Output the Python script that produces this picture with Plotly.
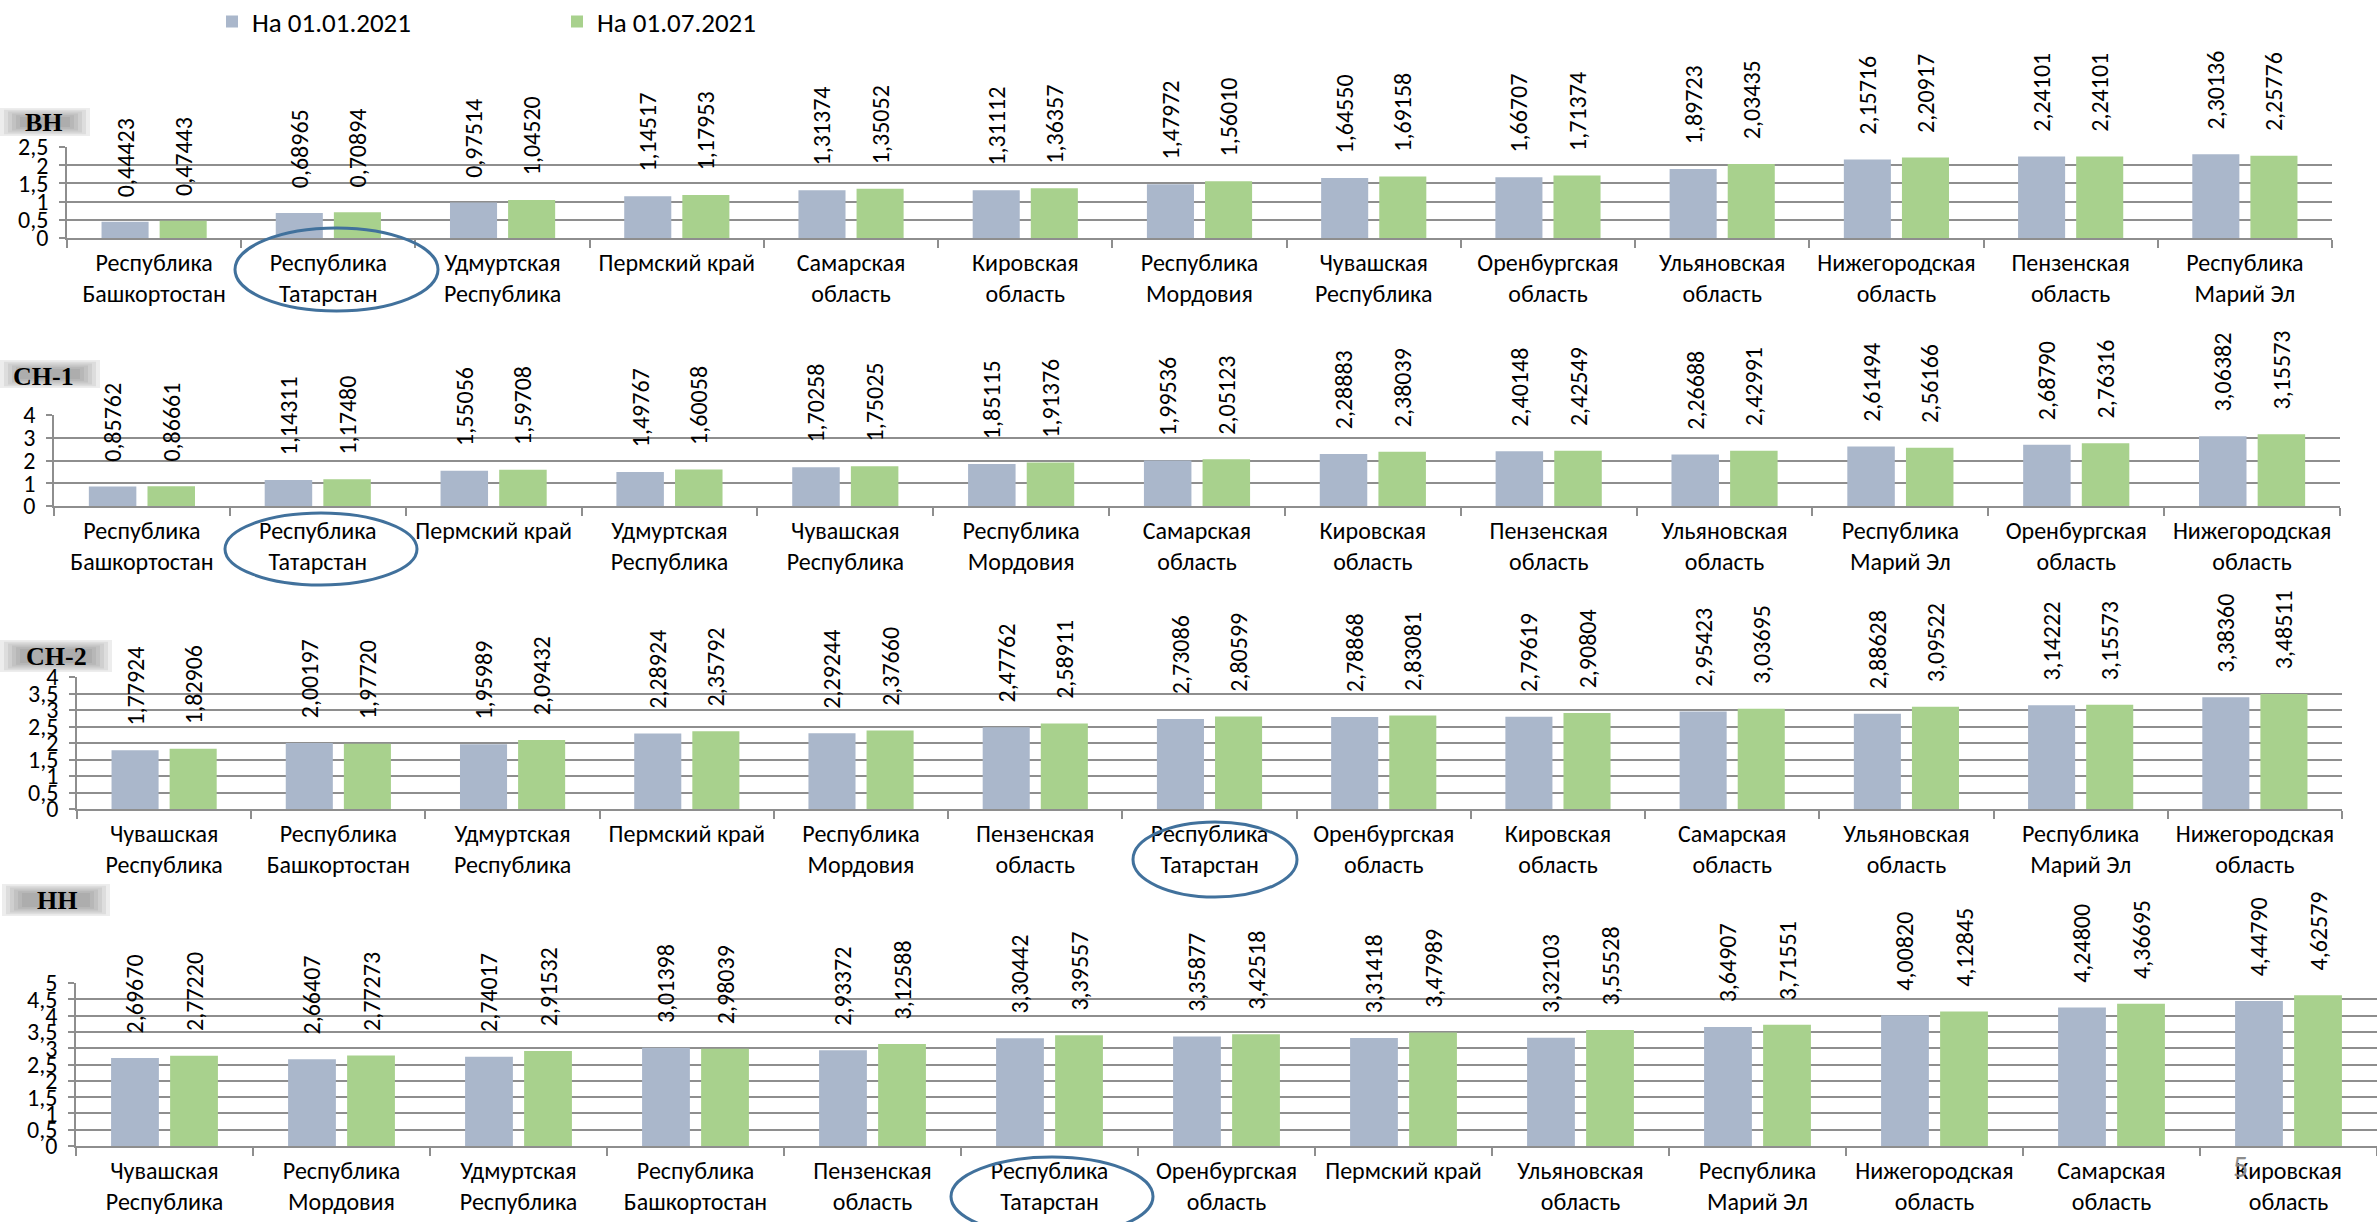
import plotly.graph_objects as go

W, H = 2377, 1222
FONT = "Carlito, Calibri, 'Open Sans', sans-serif"
SERIF = "'Liberation Serif', 'Times New Roman', serif"

# ---------------- data ----------------
series_names = ["На 01.01.2021", "На 01.07.2021"]

vn_cats = ["Республика<br>Башкортостан", "Республика<br>Татарстан", "Удмуртская<br>Республика",
           "Пермский край", "Самарская<br>область", "Кировская<br>область", "Республика<br>Мордовия",
           "Чувашская<br>Республика", "Оренбургская<br>область", "Ульяновская<br>область",
           "Нижегородская<br>область", "Пензенская<br>область", "Республика<br>Марий Эл"]
vn_jan = [0.44423, 0.68965, 0.97514, 1.14517, 1.31374, 1.31112, 1.47972, 1.64550, 1.66707,
          1.89723, 2.15716, 2.24101, 2.30136]
vn_jul = [0.47443, 0.70894, 1.04520, 1.17953, 1.35052, 1.36357, 1.56010, 1.69158, 1.71374,
          2.03435, 2.20917, 2.24101, 2.25776]

sn1_cats = ["Республика<br>Башкортостан", "Республика<br>Татарстан", "Пермский край",
            "Удмуртская<br>Республика", "Чувашская<br>Республика", "Республика<br>Мордовия",
            "Самарская<br>область", "Кировская<br>область", "Пензенская<br>область",
            "Ульяновская<br>область", "Республика<br>Марий Эл", "Оренбургская<br>область",
            "Нижегородская<br>область"]
sn1_jan = [0.85762, 1.14311, 1.55056, 1.49767, 1.70258, 1.85115, 1.99536, 2.28883, 2.40148,
           2.26688, 2.61494, 2.68790, 3.06382]
sn1_jul = [0.86661, 1.17480, 1.59708, 1.60058, 1.75025, 1.91376, 2.05123, 2.38039, 2.42549,
           2.42991, 2.56166, 2.76316, 3.15573]

sn2_cats = ["Чувашская<br>Республика", "Республика<br>Башкортостан", "Удмуртская<br>Республика",
            "Пермский край", "Республика<br>Мордовия", "Пензенская<br>область",
            "Республика<br>Татарстан", "Оренбургская<br>область", "Кировская<br>область",
            "Самарская<br>область", "Ульяновская<br>область", "Республика<br>Марий Эл",
            "Нижегородская<br>область"]
sn2_jan = [1.77924, 2.00197, 1.95989, 2.28924, 2.29244, 2.47762, 2.73086, 2.78868, 2.79619,
           2.95423, 2.88628, 3.14222, 3.38360]
sn2_jul = [1.82906, 1.97720, 2.09432, 2.35792, 2.37660, 2.58911, 2.80599, 2.83081, 2.90804,
           3.03695, 3.09522, 3.15573, 3.48511]

nn_cats = ["Чувашская<br>Республика", "Республика<br>Мордовия", "Удмуртская<br>Республика",
           "Республика<br>Башкортостан", "Пензенская<br>область", "Республика<br>Татарстан",
           "Оренбургская<br>область", "Пермский край", "Ульяновская<br>область",
           "Республика<br>Марий Эл", "Нижегородская<br>область", "Самарская<br>область",
           "Кировская<br>область"]
nn_jan = [2.69670, 2.66407, 2.74017, 3.01398, 2.93372, 3.30442, 3.35877, 3.31418, 3.32103,
          3.64907, 4.00820, 4.24800, 4.44790]
nn_jul = [2.77220, 2.77273, 2.91532, 2.98039, 3.12588, 3.39557, 3.42518, 3.47989, 3.55528,
          3.71551, 4.12845, 4.36695, 4.62579]

panel_titles = ["ВН", "СН-1", "СН-2", "НН"]
y_max = [2.5, 4, 4, 5]
y_step = [0.5, 1, 0.5, 0.5]
page_number = "5"

# ---------------- layout config (pixels) ----------------
COLORS = ["#AAB7CB", "#A8D18D"]
GRID = "#8E8E8E"
plot_px = [  # x0, x1, y_top, y_bottom
    (67, 2332, 147, 238),
    (54, 2340, 415, 506),
    (77, 2342, 677, 809),
    (76, 2377, 983, 1146),
]
title_box_px = [(0, 108, 90, 136), (0, 360, 100, 388), (0, 640, 112, 672), (2, 884, 110, 916)]
title_center_px = [(44, 123), (43, 376), (56, 656), (57, 900)]
ellipse_px = [(235, 228, 438, 311), (225, 513, 417, 585), (1133, 822, 1297, 897), (951, 1157, 1153, 1236)]

def px(x):
    return x / W

def py(y):
    return 1 - y / H

def fmt(v):
    return "\u00a0\u00a0\u00a0\u00a0" + f"{v:.5f}".replace(".", ",")

data = [(vn_cats, vn_jan, vn_jul), (sn1_cats, sn1_jan, sn1_jul),
        (sn2_cats, sn2_jan, sn2_jul), (nn_cats, nn_jan, nn_jul)]

fig = go.Figure()
layout = {}
for i, (cats, a, b) in enumerate(data):
    sfx = "" if i == 0 else str(i + 1)
    for k, vals in enumerate([a, b]):
        fig.add_trace(go.Bar(
            x=cats, y=vals, name=series_names[k],
            marker=dict(color=COLORS[k], line=dict(width=0)),
            text=[fmt(v) for v in vals], textposition="outside", textangle=-90,
            textfont=dict(family=FONT, size=24, color="black"),
            constraintext="none", cliponaxis=False,
            xaxis="x" + sfx, yaxis="y" + sfx,
            showlegend=(i == 0), legendgroup=str(k),
        ))
    x0, x1, yt, yb = plot_px[i]
    layout["xaxis" + sfx] = dict(
        type="category", domain=[px(x0), min(px(x1), 1)], anchor="y" + sfx,
        showline=True, linecolor=GRID, linewidth=1.5, ticks="outside", tickson="boundaries",
        ticklen=8, tickcolor=GRID, tickwidth=1.5, showgrid=False, automargin=False,
        tickfont=dict(family=FONT, size=24, color="black"), ticklabelstandoff=2,
    )
    layout["yaxis" + sfx] = dict(
        domain=[py(yb), py(yt)], anchor="x" + sfx, range=[0, y_max[i]], dtick=y_step[i], tick0=0,
        showgrid=True, gridcolor=GRID, gridwidth=1.5, showline=True, linecolor=GRID, linewidth=1.5,
        ticks="outside", ticklen=6, tickcolor=GRID, tickwidth=1.5, zeroline=False, automargin=False,
        tickfont=dict(family=FONT, size=24, color="black"), ticklabelstandoff=6,
    )

shapes = []
annotations = []
for i, t in enumerate(panel_titles):
    bx0, by0, bx1, by1 = title_box_px[i]
    for j in range(6):
        ins = j * 4
        shapes.append(dict(type="rect", xref="paper", yref="paper", layer="below",
                           x0=px(bx0 + ins), x1=px(bx1 - ins), y0=py(by0 + ins * 0.45), y1=py(by1 - ins * 0.45),
                           fillcolor="#6A6A6A", opacity=0.12, line=dict(width=0)))
    cx, cy = title_center_px[i]
    annotations.append(dict(text="<b>" + t + "</b>", x=px(cx), y=py(cy), xref="paper", yref="paper",
                            showarrow=False, xanchor="center", yanchor="middle",
                            font=dict(family=SERIF, size=26, color="black")))
for (ex0, ey0, ex1, ey1) in ellipse_px:
    shapes.append(dict(type="circle", xref="paper", yref="paper",
                       x0=px(ex0), x1=px(ex1), y0=py(ey1), y1=py(ey0),
                       line=dict(color="#41719C", width=3), fillcolor="rgba(0,0,0,0)"))
annotations.append(dict(text=page_number, x=px(2240), y=py(1166), xref="paper", yref="paper",
                        showarrow=False, xanchor="center", yanchor="middle",
                        font=dict(family=FONT, size=30, color="#8C8C8C")))

fig.update_layout(
    width=W, height=H, margin=dict(l=0, r=0, t=0, b=0, pad=0, autoexpand=False),
    paper_bgcolor="white", plot_bgcolor="white",
    separators=", ", barmode="group", bargap=0.333, bargroupgap=0.19,
    font=dict(family=FONT, color="black"),
    legend=dict(orientation="h", x=px(212), y=py(22), xanchor="left", yanchor="middle",
                font=dict(family=FONT, size=27, color="black"), entrywidth=300, entrywidthmode="pixels",
                bgcolor="rgba(0,0,0,0)", traceorder="normal"),
    shapes=shapes, annotations=annotations,
    **layout,
)

fig.write_html("out.html", config={"displayModeBar": False},
               post_script="document.body.style.margin='0';")
